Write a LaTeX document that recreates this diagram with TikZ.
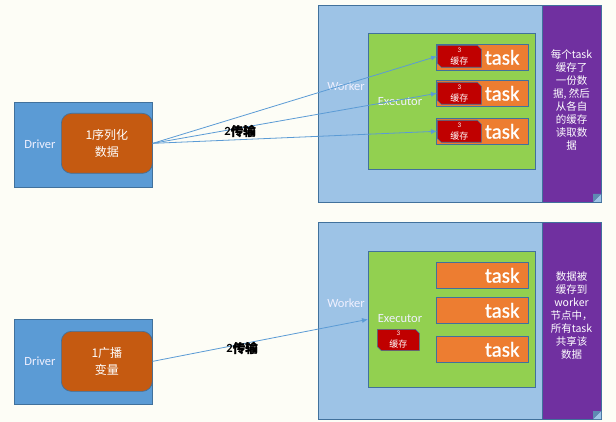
\documentclass[tikz,border=0pt]{standalone}
\usepackage{fontspec}
\setmainfont{Carlito}
\newfontfamily\cjk{Noto Sans CJK SC}
\newfontfamily\cjkb[FakeBold=2]{Noto Sans CJK SC}
\newfontfamily\taskfont[FakeBold=1]{Carlito}
\usetikzlibrary{arrows.meta,shapes.misc,positioning}
\definecolor{bg}{RGB}{253,253,246}
\definecolor{bd}{HTML}{41719C}
\definecolor{drvblue}{HTML}{5B9BD5}
\definecolor{wrkblue}{HTML}{9DC3E6}
\definecolor{srcorange}{HTML}{C55A11}
\definecolor{exgreen}{HTML}{92D050}
\definecolor{tskorange}{HTML}{ED7D31}
\definecolor{cachered}{HTML}{C00000}
\definecolor{notepurple}{HTML}{7030A0}
\definecolor{arrowblue}{HTML}{5B9BD5}
\tikzset{
  box/.style={draw=bd, line width=0.7pt, inner sep=0pt, anchor=north west},
  drvbox/.style={box, fill=drvblue, minimum width=138pt, minimum height=85pt},
  srcbox/.style={box, fill=srcorange, rounded corners=10pt, minimum width=91pt, minimum height=60pt,
    text=white, align=center, font=\cjk\fontsize{12}{17}\selectfont},
  wrkbox/.style={box, fill=wrkblue, minimum width=283pt, minimum height=197pt},
  notebox/.style={box, fill=notepurple, minimum width=59pt, minimum height=197pt},
  exbox/.style={box, fill=exgreen, minimum width=167pt, minimum height=136pt},
  tskbox/.style={box, fill=tskorange, minimum width=92pt, minimum height=26pt},
  tsktxt/.style={text=white, inner sep=0pt, font=\taskfont\fontsize{21}{22}\selectfont},
  cachebox/.style={chamfered rectangle, chamfered rectangle corners={north east,south west},
    chamfered rectangle sep=2pt, draw=bd, line width=0.6pt, fill=cachered, inner sep=0pt,
    anchor=north west, text=white, align=center},
  lbl/.style={text=white!94!blue, inner sep=0pt, font=\fontsize{12.5}{14}\selectfont},
  notetxt/.style={text=white, align=center, inner sep=0pt, font=\cjk\fontsize{10.5}{13}\selectfont},
  xferlbl/.style={inner sep=0pt, font=\bfseries\fontsize{12.5}{14}\selectfont},
  arr/.style={draw=arrowblue, line width=0.8pt, -{Latex[length=6pt,width=5pt]}},
}
\newcommand{\cachetext}{{\fontsize{7}{11}\selectfont 3}\\{\cjk\fontsize{9}{11}\selectfont 缓存}}
\begin{document}
\begin{tikzpicture}[x=1pt,y=-1pt]
\useasboundingbox (0,0) rectangle (616,422);
\fill[bg] (0,0) rectangle (616,422);

% ---------- top ----------
\node[drvbox] (drv1) at (14,102) {};
\node[lbl] (drvlbl1) at (40,144) {Driver};
\node[srcbox] (src1) at (61,113) {1序列化\\数据};

\node[wrkbox] (wrk1) at (318,5) {};
\node[notebox] (note1) at (542,5) {};
\fill[wrkblue] (593,202) -- (601,194) -- (601,202) -- cycle;
\fill[bd!70!wrkblue] (593,202) -- (601,194) -- (593,194) -- cycle;
\node[lbl] (wrklbl1) at (346,86) {Worker};
\node[exbox] (ex1) at (368,33) {};
\node[lbl] (exlbl1) at (400,102) {Executor};

\node[tskbox] (t1) at (436,44) {};
\node[tskbox] (t2) at (436,80) {};
\node[tskbox] (t3) at (436,118) {};
\node[tsktxt, left=9pt of t1.east] (tt1) {task};
\node[tsktxt, left=9pt of t2.east] (tt2) {task};
\node[tsktxt, left=9pt of t3.east] (tt3) {task};
\node[cachebox, minimum width=44pt, minimum height=22pt] (c1) at (437,45) {\cachetext};
\node[cachebox, minimum width=44pt, minimum height=22pt] (c2) at (437,82) {\cachetext};
\node[cachebox, minimum width=44pt, minimum height=22pt] (c3) at (437,120) {\cachetext};

\node[notetxt] (nt1) at (571.5,100) {每个task\\缓存了\\一份数\\据, 然后\\从各自\\的缓存\\读取数\\据};

\draw[arr] (src1.east) -- (c1.west);
\draw[arr] (src1.east) -- (c2.west);
\draw[arr] (src1.east) -- (c3.west);
\node[xferlbl] (x1) at (240,131) {2{\cjkb 传输}};

% ---------- bottom ----------
\node[drvbox] (drv2) at (14,319) {};
\node[lbl] (drvlbl2) at (40,361) {Driver};
\node[srcbox] (src2) at (61,331) {1广播\\变量};

\node[wrkbox] (wrk2) at (318,222) {};
\node[notebox] (note2) at (542,222) {};
\fill[wrkblue] (593,419) -- (601,411) -- (601,419) -- cycle;
\fill[bd!70!wrkblue] (593,419) -- (601,411) -- (593,411) -- cycle;
\node[lbl] (wrklbl2) at (346,303) {Worker};
\node[exbox] (ex2) at (368,251) {};
\node[lbl] (exlbl2) at (400,319) {Executor};

\node[tskbox] (t4) at (436,262) {};
\node[tskbox] (t5) at (436,297) {};
\node[tskbox] (t6) at (436,336) {};
\node[tsktxt, left=9pt of t4.east] (tt4) {task};
\node[tsktxt, left=9pt of t5.east] (tt5) {task};
\node[tsktxt, left=9pt of t6.east] (tt6) {task};
\node[cachebox, minimum width=42pt, minimum height=20pt] (c4) at (377,329) {\cachetext};

\node[notetxt] (nt2) at (571.5,316) {数据被\\缓存到\\worker\\节点中，\\所有task\\共享该\\数据};

\draw[arr] (src2.east) -- (ex2.west);
\node[xferlbl] (x2) at (242,348) {2{\cjkb 传输}};
\end{tikzpicture}
\end{document}
